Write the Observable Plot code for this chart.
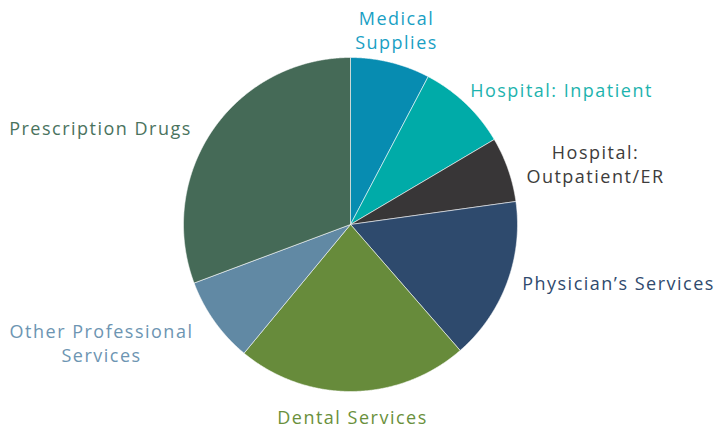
<!DOCTYPE html>
<html>
<head>
<meta charset="utf-8">
<script src="https://cdn.jsdelivr.net/npm/d3@7"></script>
<script src="https://cdn.jsdelivr.net/npm/@observablehq/plot@0.6"></script>
<style>
  html, body { margin: 0; padding: 0; background: #ffffff; }
  #chart svg { display: block; }
  #chart svg text { letter-spacing: 1.5px; }
</style>
</head>
<body>
<div id="chart"></div>
<script>
// ---- data ----
const categories = ["Medical Supplies", "Hospital: Inpatient", "Hospital: Outpatient/ER", "Physician’s Services", "Dental Services", "Other Professional Services", "Prescription Drugs"];
const shares = [7.7, 8.8, 6.3, 15.8, 22.4, 8.3, 30.7];
const labelLines = ["Medical\nSupplies", "Hospital: Inpatient", "Hospital:\nOutpatient/ER", "Physician’s Services", "Dental Services", "Other Professional\nServices", "Prescription Drugs"];
const sliceColors = ["#078cb1", "#00aba8", "#383637", "#2e4a6d", "#678b3b", "#6189a4", "#456a57"];
const labelColors = ["#1a9fc4", "#1db3ae", "#3d3c3c", "#2f4a6e", "#6a903c", "#6d95b2", "#4a735e"];

// ---- layout (pixels relative to pie centre) ----
const W = 717, H = 429, CX = 350, CY = 224, R = 167;
const labelX = [46, 211, 245, 268, 2, -249, -250];
const labelY = [-195, -135, -61, 58, 192, 118, -97];

const arcs = d3.pie().sort(null).value(d => d)(shares);
const slicePts = [];
arcs.forEach((a, i) => {
  slicePts.push({cat: categories[i], fill: sliceColors[i], x: 0, y: 0});
  const n = Math.max(2, Math.ceil((a.endAngle - a.startAngle) / 0.005));
  for (let k = 0; k <= n; k++) {
    const t = a.startAngle + (a.endAngle - a.startAngle) * k / n;
    slicePts.push({cat: categories[i], fill: sliceColors[i], x: R * Math.sin(t), y: -R * Math.cos(t)});
  }
  slicePts.push({cat: categories[i], fill: sliceColors[i], x: 0, y: 0});
});

const labels = categories.map((c, i) => ({cat: c, text: labelLines[i], color: labelColors[i], x: labelX[i], y: labelY[i]}));

const chart = Plot.plot({
  width: W,
  height: H,
  margin: 0,
  x: {domain: [-CX, W - CX], range: [0, W], axis: null},
  y: {domain: [-CY, H - CY], range: [0, H], axis: null},
  color: {type: "identity"},
  style: {fontFamily: "'Open Sans', sans-serif", background: "#ffffff"},
  marks: [
    Plot.line(slicePts, {x: "x", y: "y", z: "cat", fill: "fill", stroke: "#ffffff", strokeWidth: 0.8, strokeOpacity: 0.7, curve: "linear-closed"}),
    Plot.text(labels, {x: "x", y: "y", text: "text", fill: "color", fontSize: 18, lineHeight: 1.33, textAnchor: "middle"})
  ]
});
document.getElementById("chart").appendChild(chart);
</script>
</body>
</html>
